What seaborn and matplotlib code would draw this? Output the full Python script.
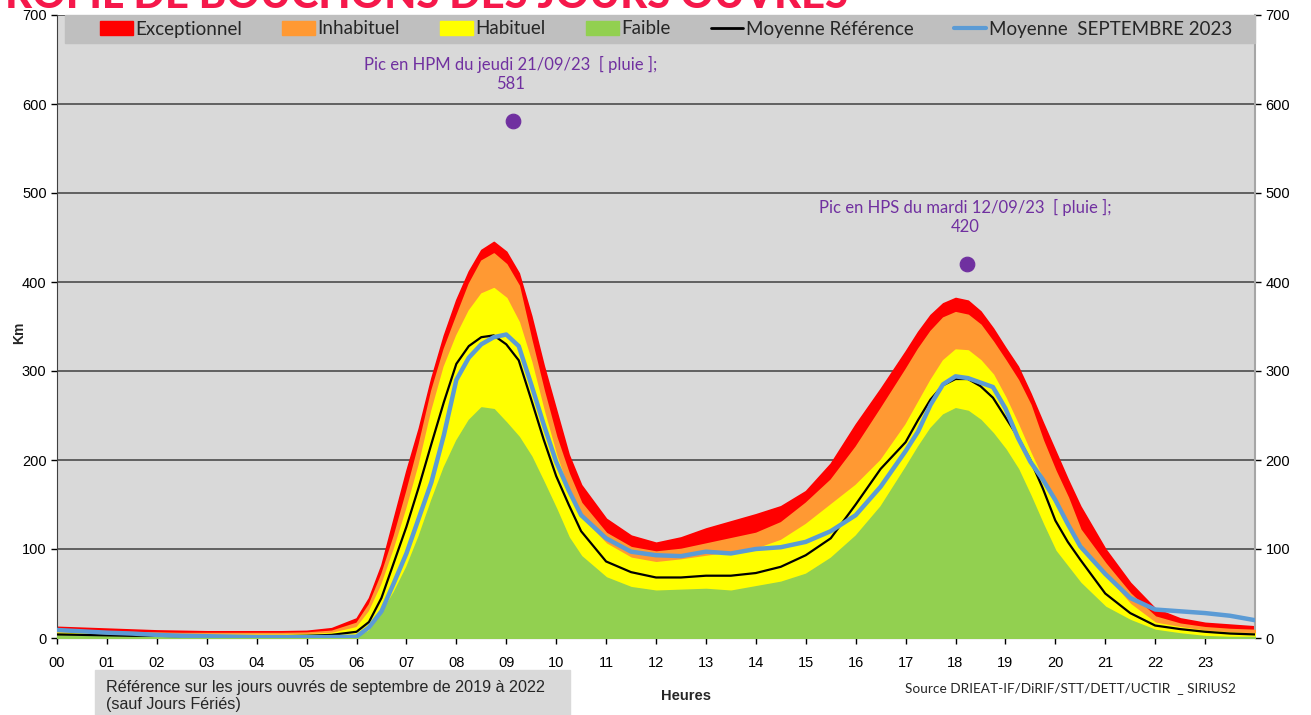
#!/usr/bin/env python3
"""Profil de bouchons des jours ouvrés - septembre 2023 vs référence."""

import matplotlib as mpl
import matplotlib.pyplot as plt
import pandas as pd
import seaborn as sns
from matplotlib.lines import Line2D
from matplotlib.patches import Patch, Rectangle

mpl.use('Agg')
sns.set_style("white")
plt.rcParams['font.family'] = ['Liberation Sans', 'DejaVu Sans']

HOURS = [0, 0.5, 1, 1.5, 2, 2.5, 3, 3.5, 4, 4.5, 5, 5.5,
         6, 6.25, 6.5, 6.75, 7, 7.25, 7.5, 7.75, 8, 8.25, 8.5, 8.75,
         9, 9.25, 9.5, 9.75, 10, 10.25, 10.5,
         11, 11.5, 12, 12.5, 13, 13.5, 14, 14.5, 15, 15.5, 16, 16.5,
         17, 17.25, 17.5, 17.75, 18, 18.25, 18.5, 18.75, 19, 19.25, 19.5,
         19.75, 20, 20.25, 20.5,
         21, 21.5, 22, 22.5, 23, 23.5, 24]

EXCEPTIONNEL = [12.5, 11.5, 10.5, 9.5, 8.5, 8, 7.5, 7.5, 7.5, 7.5, 8, 11,
                22, 45, 82, 135, 188, 236, 292, 340, 380, 412, 436, 445,
                434, 410, 362, 306, 256, 206, 172,
                134, 115, 107, 113, 123, 131, 139, 148, 165, 196, 240, 280,
                322, 344, 363, 376, 382, 379, 367, 348, 326, 305, 275,
                242, 210, 178, 148,
                100, 62, 33, 22, 17, 15, 13]
INHABITUEL = [8.5, 8, 7, 6.5, 6, 5.5, 5.5, 5.5, 5.5, 5.5, 6, 8,
              17, 38, 72, 115, 165, 218, 278, 325, 362, 398, 424, 432,
              420, 396, 335, 278, 226, 185, 152,
              118, 102, 97, 100, 106, 112, 118, 130, 152, 178, 215, 258,
              302, 325, 345, 360, 366, 363, 352, 333, 312, 290, 262,
              222, 188, 158, 122,
              84, 50, 24, 16, 12, 10, 9]
HABITUEL = [6, 5.5, 5, 4.5, 4, 4, 3.5, 3.5, 3.5, 3.5, 4, 5.5,
            12, 30, 60, 100, 145, 195, 255, 305, 340, 368, 387, 393,
            382, 355, 310, 255, 205, 165, 135,
            106, 90, 85, 88, 92, 96, 100, 110, 128, 150, 172, 200,
            240, 265, 290, 312, 324, 323, 312, 296, 270, 240, 208,
            178, 150, 125, 105,
            70, 38, 17, 12, 8, 6, 5]
FAIBLE = [3, 2.5, 2, 1.5, 1.5, 1, 1, 1, 1, 1, 1, 1,
          1, 8, 28, 52, 80, 115, 155, 192, 222, 245, 259, 257,
          242, 226, 204, 175, 145, 113, 92,
          68, 57, 53, 54, 55, 53, 58, 63, 72, 90, 115, 148,
          192, 215, 236, 251, 258, 255, 245, 230, 212, 190, 160,
          128, 98, 80, 62,
          35, 20, 9, 5, 2, 1, 1]
MOY_REFERENCE = [4, 3.5, 3, 2.5, 2.5, 2, 2, 2, 2, 2, 2.5, 3.5,
                 7, 18, 45, 85, 125, 170, 218, 265, 308, 328, 338, 340,
                 330, 312, 268, 223, 182, 150, 120,
                 86, 74, 68, 68, 70, 70, 73, 80, 93, 112, 150, 190,
                 220, 245, 268, 284, 291, 291, 283, 270, 248, 226, 200,
                 168, 132, 108, 88,
                 50, 28, 14, 10, 7, 5, 4]
MOY_SEPT_2023 = [9, 7.5, 6, 5, 3.5, 2.5, 2, 1.5, 1, 1, 1, 1,
                 1.5, 12, 30, 62, 95, 135, 175, 228, 290, 315, 330, 338,
                 341, 328, 285, 240, 198, 166, 138,
                 112, 97, 93, 92, 97, 95, 100, 102, 108, 120, 138, 170,
                 210, 232, 262, 285, 294, 292, 287, 282, 258, 225, 198,
                 178, 155, 128, 103,
                 72, 45, 32, 30, 28, 25, 20]

PIC_HEURES = [9.14, 18.24]
PIC_VALEURS = [581, 420]
PIC_LABELS = ["Pic en HPM du jeudi 21/09/23  [ pluie ];\n581",
              "Pic en HPS du mardi 12/09/23  [ pluie ];\n420"]

TICK_LABELS = [f"{h:02d}" for h in range(24)]

COLORS = {"Exceptionnel": "#ff0000", "Inhabituel": "#ff9933",
          "Habituel": "#ffff00", "Faible": "#92d050"}
PURPLE = "#7030a0"
BLUE = "#5b9bd5"
TEXT_FONT = ['Lato', 'DejaVu Sans']


def main():
    df = pd.DataFrame({"heure": HOURS, "Exceptionnel": EXCEPTIONNEL,
                       "Inhabituel": INHABITUEL, "Habituel": HABITUEL,
                       "Faible": FAIBLE, "ref": MOY_REFERENCE,
                       "sept": MOY_SEPT_2023})

    fig = plt.figure(figsize=(13.11, 7.15), dpi=100)
    ax = fig.add_axes([57/1311, 1 - 638/715, 1198/1311, 623/715])
    ax.set_facecolor("#d9d9d9")

    # Stacked bands, drawn from top to bottom
    for i, name in enumerate(["Exceptionnel", "Inhabituel", "Habituel",
                              "Faible"]):
        ax.fill_between(df["heure"], 0, df[name], color=COLORS[name],
                        lw=1.2, zorder=2 + i)
    sns.lineplot(x="heure", y="ref", data=df, ax=ax, color="black", lw=1.6,
                 zorder=7)
    sns.lineplot(x="heure", y="sept", data=df, ax=ax, color=BLUE, lw=3.2,
                 zorder=8)

    # Peaks
    sns.scatterplot(x=PIC_HEURES, y=PIC_VALEURS, ax=ax, color=PURPLE, s=110,
                    edgecolor=PURPLE, zorder=9)
    for h, v, lab in zip(PIC_HEURES, PIC_VALEURS, PIC_LABELS):
        ax.text(h - 0.05, v + 33, lab, ha="center", va="bottom",
                color=PURPLE, fontsize=12, family=TEXT_FONT,
                linespacing=1.2, zorder=9)

    # Axes
    ax.set_xlim(0, 24)
    ax.set_ylim(0, 700)
    ax.set_xticks(range(24))
    ax.set_xticklabels(TICK_LABELS)
    ax.set_yticks(range(0, 701, 100))
    ax.yaxis.grid(True, color="#404040", lw=1.1)
    ax.set_axisbelow(True)
    ax.tick_params(axis="both", labelsize=10.5, length=4, width=1,
                   direction="out", colors="#000000")
    ax.tick_params(axis="y", right=True, labelright=True, left=True)
    ax.tick_params(axis="x", bottom=True, pad=9)
    ax.spines["top"].set_visible(False)
    ax.spines["left"].set_color("#404040")
    ax.spines["right"].set_color("#a6a6a6")
    ax.spines["right"].set_linewidth(1.5)
    ax.spines["bottom"].set_color("#000000")
    ax.set_ylabel("Km", fontweight="bold", fontsize=10)
    ax.yaxis.set_label_coords(-0.026, 0.49)
    ax.set_xlabel("Heures", fontweight="bold", fontsize=10.5)
    ax.xaxis.set_label_coords((686 - 57) / 1198, -0.082)

    # Legend band
    ax.add_patch(Rectangle((8/1198, 1 - 28/623), 1 - 8/1198, 28/623,
                           transform=ax.transAxes, color="#bfbfbf",
                           zorder=10, clip_on=False))
    handles = [Patch(color=COLORS[n]) for n in COLORS]
    handles += [Line2D([], [], color="black", lw=2),
                Line2D([], [], color=BLUE, lw=3)]
    labels = list(COLORS) + ["Moyenne Référence", "Moyenne  SEPTEMBRE 2023"]
    leg = ax.legend(handles, labels, loc="center",
                    bbox_to_anchor=((666 - 57) / 1198, 1 - 14/623),
                    ncol=6, frameon=False, handlelength=1.75,
                    handleheight=0.75, handletextpad=0.12,
                    columnspacing=2.15,
                    prop={"family": TEXT_FONT, "size": 13.5})
    leg.set_zorder(11)

    # Title (cut at the top of the image)
    fig.text(848/1311, 1 - 8/715, "PROFIL DE BOUCHONS DES JOURS OUVRÉS",
             ha="right", va="baseline", color="#f5184b", fontsize=30,
             fontweight="black", family=TEXT_FONT)

    # Footer
    fig.patches.append(Rectangle((95/1311, 0), 475/1311, 45/715,
                                 transform=fig.transFigure,
                                 color="#d9d9d9", zorder=0))
    fig.text(106/1311, 1 - 696/715,
             "Référence sur les jours ouvrés de septembre de 2019 à 2022\n"
             "(sauf Jours Fériés)", ha="left", va="center", fontsize=11.6,
             linespacing=1.2)
    fig.text(905/1311, 1 - 688/715,
             "Source DRIEAT-IF/DiRIF/STT/DETT/UCTIR  _ SIRIUS2", ha="left",
             va="center", fontsize=9.8, family=TEXT_FONT)

    fig.savefig("out.png", dpi=100)
    plt.close(fig)


if __name__ == '__main__':
    main()
